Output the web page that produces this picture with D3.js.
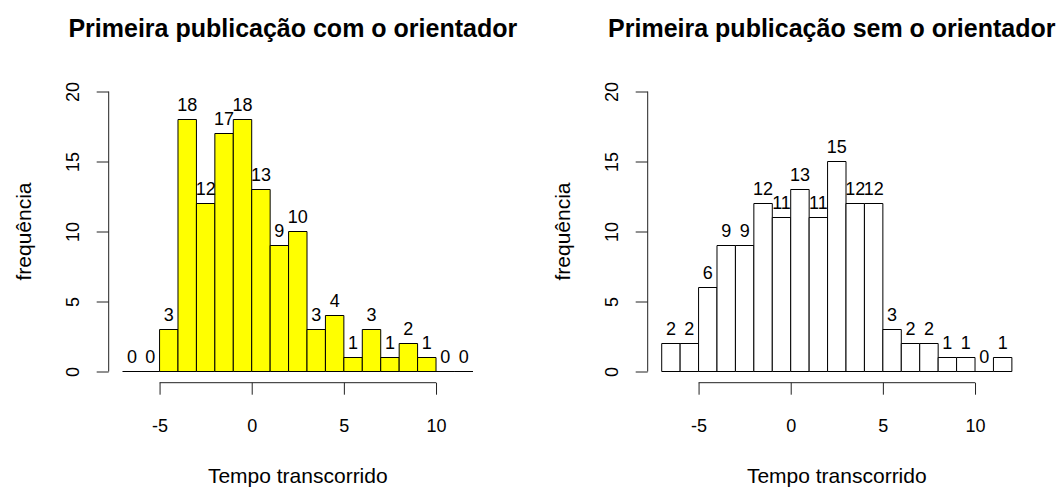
<!DOCTYPE html>
<html>
<head>
<meta charset="utf-8">
<script src="https://cdn.jsdelivr.net/npm/d3@7"></script>
<style>
  body { margin: 0; background: #fff; }
  svg { display: block; }
  text { font-family: "Liberation Sans", Arial, sans-serif; fill: #000; }
</style>
</head>
<body>
<svg id="chart" width="1060" height="489"></svg>
<script>
// bins are one unit wide, starting at these values
const binStarts = [-7, -6, -5, -4, -3, -2, -1, 0, 1, 2, 3, 4, 5, 6, 7, 8, 9, 10, 11];
const countsCom = [0, 0, 3, 18, 12, 17, 18, 13, 9, 10, 3, 4, 1, 3, 1, 2, 1, 0, 0];
const countsSem = [2, 2, 6, 9, 9, 12, 11, 13, 11, 15, 12, 12, 3, 2, 2, 1, 1, 0, 1];
const xTicks = [-5, 0, 5, 10];
const yTicks = [0, 5, 10, 15, 20];
const titles = ["Primeira publicação com o orientador", "Primeira publicação sem o orientador"];
const xLabel = "Tempo transcorrido";
const yLabel = "frequência";
const fills = ["#ffff00", "#ffffff"];

const svg = d3.select("#chart");

const pxPerUnit = 18.43;
const xDomain = [-7.76, 12.76];
const panelLefts = [108.7, 647.7];

// y scale shared by both panels (R style 4% padding below 0 and above 20)
const y = d3.scaleLinear().domain([-0.8, 20.8]).range([382.7, 80.3]);

function drawPanel(left, counts, title, fill) {
  const width = (xDomain[1] - xDomain[0]) * pxPerUnit;
  const x = d3.scaleLinear().domain(xDomain).range([left, left + width]);
  const cx = left + width / 2;
  const g = svg.append("g");

  // bars (drawn as closed paths so empty bins still show as a line)
  g.selectAll("path.bar")
    .data(binStarts.map((b, i) => ({ b: b, c: counts[i] })))
    .enter().append("path")
    .attr("class", "bar")
    .attr("d", d => {
      const x0 = x(d.b), x1 = x(d.b + 1), y0 = y(0), y1 = y(d.c);
      return `M${x0},${y0}H${x1}V${y1}H${x0}Z`;
    })
    .attr("fill", fill)
    .attr("stroke", "#000")
    .attr("stroke-width", 1);

  // count labels on top of each bar
  g.selectAll("text.lab")
    .data(binStarts.map((b, i) => ({ b: b, c: counts[i] })))
    .enter().append("text")
    .attr("class", "lab")
    .attr("x", d => x(d.b + 0.5))
    .attr("y", d => y(d.c) - 8.5)
    .attr("text-anchor", "middle")
    .style("font-size", "18px")
    .text(d => d.c);

  // x axis
  const xAxis = g.append("g")
    .attr("transform", `translate(0,${y.range()[0]})`)
    .call(d3.axisBottom(x).tickValues(xTicks).tickSize(12).tickFormat(d => String(d)));
  xAxis.select(".domain").remove();
  xAxis.append("line")
    .attr("x1", x(xTicks[0])).attr("x2", x(xTicks[xTicks.length - 1]))
    .attr("y1", 0).attr("y2", 0)
    .attr("stroke", "#222");
  xAxis.selectAll(".tick line").attr("stroke", "#222");
  xAxis.selectAll(".tick text")
    .attr("y", 49.5).attr("dy", 0)
    .style("font-size", "18px")
    .style("font-family", "'Liberation Sans', Arial, sans-serif")
    .attr("fill", "#000");

  // y axis
  const yAxis = g.append("g")
    .attr("transform", `translate(${left},0)`)
    .call(d3.axisLeft(y).tickValues(yTicks).tickSize(12));
  yAxis.select(".domain").remove();
  yAxis.append("line")
    .attr("x1", 0).attr("x2", 0)
    .attr("y1", y(yTicks[0])).attr("y2", y(yTicks[yTicks.length - 1]))
    .attr("stroke", "#222");
  yAxis.selectAll(".tick line").attr("stroke", "#222");
  yAxis.selectAll(".tick text")
    .attr("x", 0).attr("y", 0).attr("dy", 0)
    .attr("transform", "translate(-29.5,0) rotate(-90)")
    .attr("text-anchor", "middle")
    .style("font-size", "18px")
    .style("font-family", "'Liberation Sans', Arial, sans-serif")
    .attr("fill", "#000");

  // title and axis labels
  g.append("text")
    .attr("x", cx - 5)
    .attr("y", 37.3)
    .attr("text-anchor", "middle")
    .style("font-size", "25px")
    .style("font-weight", "bold")
    .text(title);

  g.append("text")
    .attr("x", cx)
    .attr("y", 483.3)
    .attr("text-anchor", "middle")
    .style("font-size", "21px")
    .text(xLabel);

  g.append("text")
    .attr("transform", `translate(${left - 78},${(y.range()[0] + y.range()[1]) / 2}) rotate(-90)`)
    .attr("text-anchor", "middle")
    .style("font-size", "21px")
    .text(yLabel);
}

drawPanel(panelLefts[0], countsCom, titles[0], fills[0]);
drawPanel(panelLefts[1], countsSem, titles[1], fills[1]);
</script>
</body>
</html>
